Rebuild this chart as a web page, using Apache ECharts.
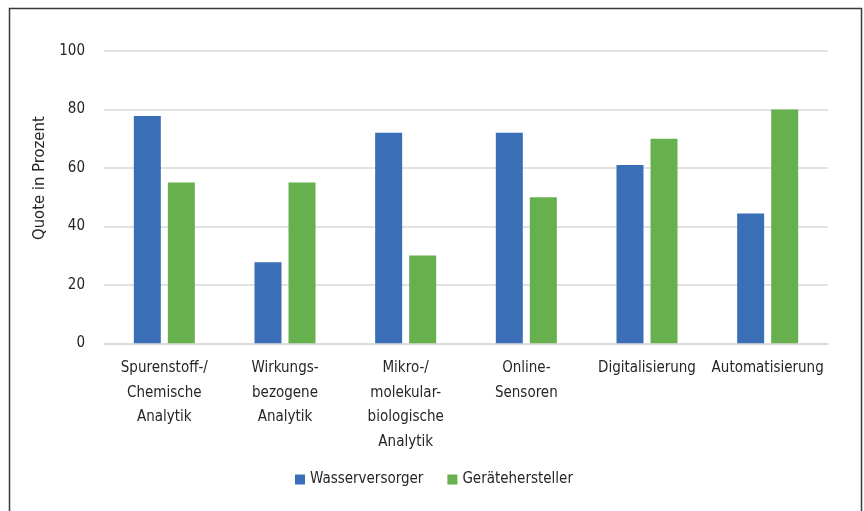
<!DOCTYPE html>
<html>
<head>
<meta charset="utf-8">
<script src="https://cdn.jsdelivr.net/npm/echarts@6/dist/echarts.min.js"></script>
<style>
html,body{margin:0;padding:0;background:#fff;}
#chart{width:864px;height:511px;}
</style>
</head>
<body>
<div id="chart"></div>
<script>
var categories = ["Spurenstoff-/\nChemische\nAnalytik", "Wirkungs-\nbezogene\nAnalytik", "Mikro-/\nmolekular-\nbiologische\nAnalytik", "Online-\nSensoren", "Digitalisierung", "Automatisierung"];
var wasserversorger = [77.8, 27.7, 72, 72, 61, 44.4];
var geraetehersteller = [55, 55, 30, 50, 70, 80];
var seriesNames = ["Wasserversorger", "Gerätehersteller"];
var yTicks = {min: 0, max: 100, interval: 20};

var FONT = '"Liberation Sans Narrow", "DejaVu Sans Condensed", sans-serif';
var TXT = '#262626';
var chart = echarts.init(document.getElementById('chart'));
chart.setOption({
  animation: false,
  textStyle: {fontFamily: FONT, color: TXT},
  graphic: [{
    type: 'rect',
    shape: {x: 9.5, y: 8.5, width: 852, height: 540},
    style: {fill: 'none', stroke: '#3a3a3a', lineWidth: 1.5},
    silent: true
  }],
  grid: {left: 104, right: 36, top: 51, bottom: 167.7, containLabel: false},
  legend: {
    data: seriesNames,
    left: 290,
    top: 467,
    itemWidth: 10,
    itemHeight: 10,
    itemGap: 24,
    icon: 'rect',
    textStyle: {fontFamily: FONT, fontSize: 15, color: TXT}
  },
  xAxis: {
    type: 'category',
    data: categories,
    axisLine: {show: true, lineStyle: {color: '#d9d9d9', width: 1.5}},
    axisTick: {show: false},
    axisLabel: {fontFamily: FONT, fontSize: 15, color: TXT, lineHeight: 24.5, margin: 13, interval: 0}
  },
  yAxis: {
    type: 'value',
    min: yTicks.min, max: yTicks.max, interval: yTicks.interval,
    name: 'Quote in Prozent',
    nameLocation: 'middle',
    nameGap: 54,
    nameTextStyle: {fontFamily: FONT, fontSize: 16.5, color: TXT, padding: [0, 0, 0, 38]},
    axisLine: {show: false},
    axisTick: {show: false},
    axisLabel: {fontFamily: FONT, fontSize: 15, color: TXT, margin: 19},
    splitLine: {lineStyle: {color: '#d9d9d9', width: 1.5}}
  },
  series: [
    {name: seriesNames[0], type: 'bar', data: wasserversorger, barWidth: 27, barGap: '26%',
     itemStyle: {color: '#3a6fb7'}},
    {name: seriesNames[1], type: 'bar', data: geraetehersteller, barWidth: 27, barGap: '26%',
     itemStyle: {color: '#67b04e'}}
  ]
});
</script>
</body>
</html>
